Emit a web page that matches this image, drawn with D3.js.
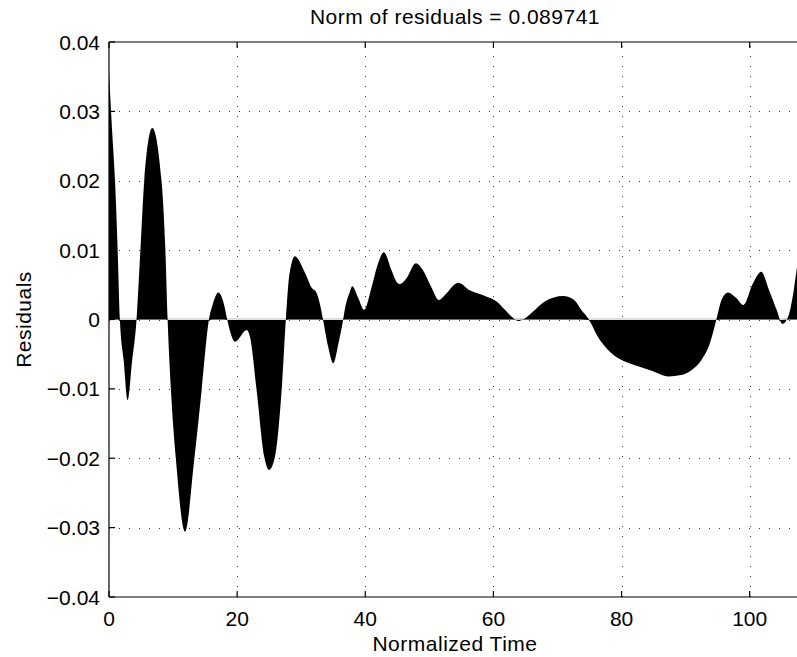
<!DOCTYPE html>
<html>
<head>
<meta charset="utf-8">
<script src="https://cdn.jsdelivr.net/npm/d3@7"></script>
<style>
  body { margin: 0; background: #fff; }
  text { font-family: "Liberation Sans", Arial, Helvetica, sans-serif; fill: #000; }
</style>
</head>
<body>
<svg id="chart" width="797" height="657"></svg>
<script>
// residuals (normalized time, residual)
const timeKnots = [
  0, 0.5, 0.94, 1.35, 1.7, 2.3, 2.9, 3.6, 4.3, 4.9, 5.5, 6.76, 8.2, 8.8, 9.15,
  9.67, 10.45, 11.86, 13.3, 14.46, 15.6, 16.2, 17.06, 18.0, 18.45, 19.66, 21.5,
  22.0, 23.04, 24.23, 25.0, 25.9, 26.94, 27.6, 28.0, 28.5, 29.0, 30.6, 31.7,
  32.3, 32.9, 33.4, 34.2, 35.0, 35.8, 36.55, 36.8, 37.6, 37.96, 38.9, 39.8,
  41.0, 42.0, 42.9, 44.1, 44.9, 45.4, 46.4, 47.9, 49.0, 50.3, 51.5, 52.4,
  54.5, 56.3, 58.7, 60.5, 61.8, 63.0, 63.9, 64.8, 65.9, 68.0, 70.9, 72.6,
  73.7, 74.9, 76.3, 77.9, 79.7, 82.1, 84.7, 87.3, 89.3, 90.9, 92.5, 93.8,
  94.8, 95.6, 96.6, 97.9, 99.0, 100.5, 101.8, 103.0, 104.2, 105.1, 106.0,
  106.8, 107.4, 107.8
];
const residuals = [
  0.0355, 0.027, 0.020, 0.010, 0, -0.006, -0.0116, -0.006, 0, 0.010, 0.020, 0.0276, 0.020, 0.010, 0,
  -0.0102, -0.0202, -0.0306, -0.0202, -0.0102, 0, 0.0022, 0.0039, 0.002, 0, -0.0032, -0.0015,
  -0.0025, -0.0102, -0.0198, -0.0217, -0.0198, -0.0102, 0, 0.0052, 0.0081, 0.0091, 0.0067, 0.0045,
  0.004, 0.0023, 0, -0.0039, -0.0063, -0.0035, 0, 0.0014, 0.0040, 0.0048, 0.0031, 0.0014,
  0.0047, 0.0081, 0.0097, 0.0071, 0.0054, 0.0051, 0.0059, 0.0081, 0.0071, 0.0047, 0.0028, 0.0035,
  0.0053, 0.0042, 0.0034, 0.0026, 0.0014, 0.0003, -0.0002, 0.0001, 0.0009, 0.0026, 0.0034, 0.0028,
  0.0014, 0, -0.0025, -0.0044, -0.0057, -0.0066, -0.0074, -0.0082, -0.0080, -0.0073, -0.0058, -0.0034,
  0, 0.0028, 0.0039, 0.0031, 0.0021, 0.0052, 0.0069, 0.0043, 0.0014, -0.00065, 0.0004,
  0.0038, 0.0076, 0.0095
];

const xTicks = [0, 20, 40, 60, 80, 100];
const yTicks = [-0.04, -0.03, -0.02, -0.01, 0, 0.01, 0.02, 0.03, 0.04];
const yTickLabels = ['\u22120.04', '\u22120.03', '\u22120.02', '\u22120.01', '0', '0.01', '0.02', '0.03', '0.04'];
const titleText = 'Norm of residuals = 0.089741';
const xLabel = 'Normalized Time';
const yLabel = 'Residuals';

const MARGIN = { left: 109, top: 42 };
const PLOT_HEIGHT = 555;
const X_MAX = 108;
const PX_PER_UNIT = 6.407;
const TICK = 6;
const FONT = 21;

const svg = d3.select('#chart');

const xScale = d3.scaleLinear()
  .domain([0, X_MAX])
  .range([MARGIN.left, MARGIN.left + X_MAX * PX_PER_UNIT]);
const yScale = d3.scaleLinear()
  .domain([-0.04, 0.04])
  .range([MARGIN.top + PLOT_HEIGHT, MARGIN.top]);

const plotLeft = xScale(0), plotRight = xScale(X_MAX);
const plotTop = yScale(0.04), plotBottom = yScale(-0.04);

// dotted grid
const grid = svg.append('g')
  .attr('stroke', '#333')
  .attr('stroke-width', 1)
  .attr('stroke-dasharray', '1,9');
grid.selectAll('.gx')
  .data(xTicks.slice(1))
  .join('line')
  .attr('x1', d => Math.round(xScale(d)) + 0.5)
  .attr('x2', d => Math.round(xScale(d)) + 0.5)
  .attr('y1', plotBottom)
  .attr('y2', plotTop);
grid.selectAll('.gy')
  .data(yTicks.slice(1, -1))
  .join('line')
  .attr('y1', d => Math.round(yScale(d)) + 0.5)
  .attr('y2', d => Math.round(yScale(d)) + 0.5)
  .attr('x1', plotLeft)
  .attr('x2', plotRight);

// light baseline at zero (bar edges), only shows where residuals are negative
svg.append('line')
  .attr('x1', xScale(0))
  .attr('x2', plotRight)
  .attr('y1', yScale(0) - 0.5)
  .attr('y2', yScale(0) - 0.5)
  .attr('stroke', '#bdbdbd')
  .attr('stroke-width', 1);

// filled residuals
const points = timeKnots.map((t, i) => [t, residuals[i]]);
const area = d3.area()
  .x(d => xScale(d[0]))
  .y0(d => d[1] > 0 ? yScale(0) : yScale(0) + 0.5)
  .y1(d => yScale(d[1]))
  .curve(d3.curveMonotoneX);
svg.append('path')
  .datum(points)
  .attr('d', area)
  .attr('fill', '#000');

// axes box and inward ticks
const axes = svg.append('g').attr('stroke', '#000').attr('stroke-width', 1.2).attr('fill', 'none');
axes.append('line').attr('x1', plotLeft).attr('x2', plotRight).attr('y1', plotTop).attr('y2', plotTop);
axes.append('line').attr('x1', plotLeft).attr('x2', plotRight).attr('y1', plotBottom).attr('y2', plotBottom);
axes.append('line').attr('x1', plotLeft).attr('x2', plotLeft).attr('y1', plotTop).attr('y2', plotBottom);
axes.selectAll('.tb')
  .data(xTicks)
  .join('line')
  .attr('x1', d => xScale(d)).attr('x2', d => xScale(d))
  .attr('y1', plotBottom).attr('y2', plotBottom - TICK);
axes.selectAll('.tt')
  .data(xTicks)
  .join('line')
  .attr('x1', d => xScale(d)).attr('x2', d => xScale(d))
  .attr('y1', plotTop).attr('y2', plotTop + TICK);
axes.selectAll('.tl')
  .data(yTicks)
  .join('line')
  .attr('y1', d => yScale(d)).attr('y2', d => yScale(d))
  .attr('x1', plotLeft).attr('x2', plotLeft + TICK);

// tick labels
svg.append('g').selectAll('text')
  .data(xTicks)
  .join('text')
  .attr('x', d => xScale(d))
  .attr('y', plotBottom + 29)
  .attr('text-anchor', 'middle')
  .attr('font-size', FONT)
  .text(d => d);
svg.append('g').selectAll('text')
  .data(yTicks)
  .join('text')
  .attr('x', plotLeft - 9)
  .attr('y', d => yScale(d) + 7.5)
  .attr('text-anchor', 'end')
  .attr('font-size', FONT)
  .text((d, i) => yTickLabels[i]);

// title and labels
svg.append('text')
  .attr('x', (plotLeft + plotRight) / 2)
  .attr('y', 24)
  .attr('text-anchor', 'middle')
  .attr('font-size', FONT)
  .attr('letter-spacing', 0.5)
  .text(titleText);
svg.append('text')
  .attr('x', (plotLeft + plotRight) / 2)
  .attr('y', 651)
  .attr('text-anchor', 'middle')
  .attr('font-size', FONT)
  .attr('letter-spacing', 0.5)
  .text(xLabel);
svg.append('text')
  .attr('transform', `translate(31,${(plotTop + plotBottom) / 2}) rotate(-90)`)
  .attr('text-anchor', 'middle')
  .attr('font-size', FONT)
  .attr('letter-spacing', 0.5)
  .text(yLabel);
</script>
</body>
</html>
